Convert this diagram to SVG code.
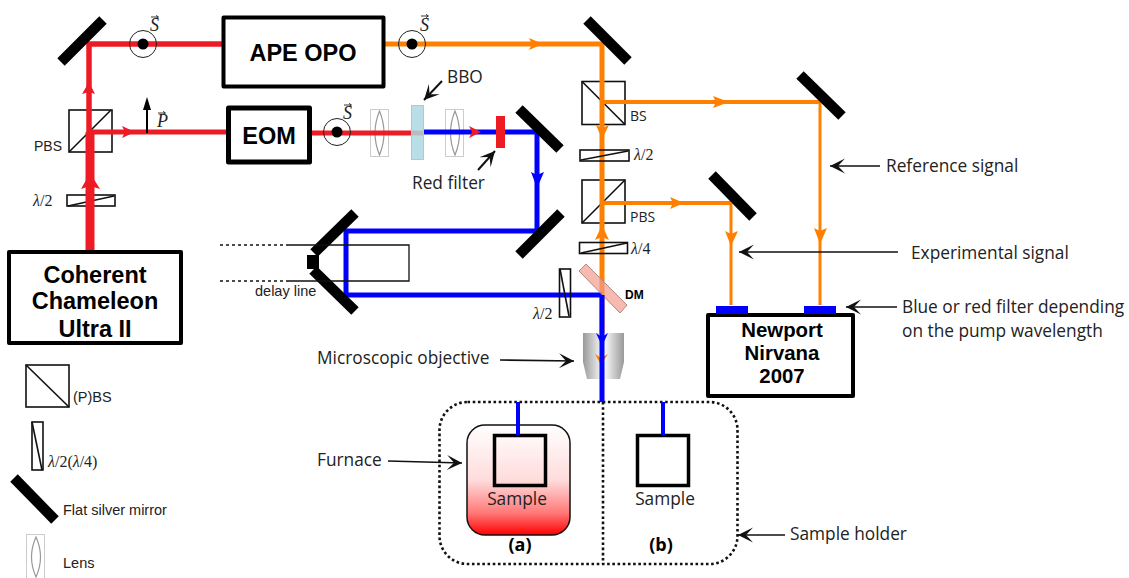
<svg xmlns="http://www.w3.org/2000/svg" xmlns:xlink="http://www.w3.org/1999/xlink" width="1129" height="578" viewBox="0 0 1129 578">
<style>
text{font-family:"Liberation Sans",Arial,sans-serif;fill:#111}
.c{font-family:"Open Sans","Noto Sans",sans-serif;font-size:17.300px;fill:#222}
.b{font-weight:700;text-anchor:middle;fill:#000}
.m{font-family:"Liberation Serif",serif;font-size:16px;fill:#222}
.m tspan{font-style:italic}
.v{font-family:"Liberation Serif",serif;font-style:italic;font-size:18px;fill:#222}
.l{font-size:14.500px;fill:#222}
.box{fill:#fff;stroke:#000;stroke-width:4;stroke-linejoin:round}
.thin{fill:none;stroke:#111;stroke-width:1.600}
.mir{stroke:#000;stroke-width:10.500;fill:none}
.lab{stroke:#111;stroke-width:1.600;fill:none;marker-end:url(#ah)}
.r{stroke:#ed1c24;fill:none}.o{stroke:#ff8000;fill:none}.bl{stroke:#0000ff;fill:none}
.rf{fill:#ed1c24}.of{fill:#ff8000}.bf{fill:#0000ff}
.lensbox{fill:none;stroke:#ccc;stroke-width:1}
.lens{fill:none;stroke:#999;stroke-width:1.200}
.ring{fill:none;stroke:#222;stroke-width:1}
</style>
<defs>
<marker id="ah" markerUnits="userSpaceOnUse" markerWidth="18" markerHeight="18" refX="16" refY="9" orient="auto"><path d="M1,1.500 L16,9 L1,16.500 L8,9 Z" fill="#111"/></marker>
<linearGradient id="fg" x1="0" y1="0" x2="0" y2="1"><stop offset="0" stop-color="#fff"/><stop offset=".5" stop-color="#ffdcdc"/><stop offset=".8" stop-color="#ff7878"/><stop offset="1" stop-color="#ff0000"/></linearGradient>
<linearGradient id="og" x1="0" y1="0" x2="1" y2="0"><stop offset="0" stop-color="#999"/><stop offset=".5" stop-color="#fff"/><stop offset="1" stop-color="#999"/></linearGradient>
<g id="pol"><circle r="13.500" class="ring"/><circle r="5.500" fill="#000"/></g>
<path id="vec" d="M0 0H7M5 -1.600L7.500 0L5 1.600" fill="none" stroke="#222" stroke-width="0.900"/>
</defs>

<g id="holder">
<rect x="439.500" y="402" width="298" height="162" rx="28" fill="none" stroke="#111" stroke-width="2.600" stroke-dasharray="2.600 2.600"/>
<path d="M603 402V564" fill="none" stroke="#111" stroke-width="2.600" stroke-dasharray="2.600 2.600"/>
<text class="c b" x="520" y="551" style="font-size:18px">(a)</text>
<text class="c b" x="661" y="551" style="font-size:18px">(b)</text>
</g>
<g id="furnace"><rect x="467" y="425" width="103" height="110" rx="18" fill="url(#fg)" stroke="#111" stroke-width="1.500"/></g>
<g id="sample-a"><rect x="494.500" y="435.500" width="51" height="50" fill="none" stroke="#000" stroke-width="3.500"/><text class="c" x="517" y="505" text-anchor="middle">Sample</text></g>
<g id="sample-b"><rect x="637.500" y="435.500" width="51" height="50" fill="#fff" stroke="#000" stroke-width="3.500"/><text class="c" x="665" y="505" text-anchor="middle">Sample</text></g>

<g id="pbs1"><rect class="thin" x="69" y="110" width="43" height="42"/><path class="thin" d="M69 152L111 110"/><text class="l" x="34" y="151" style="font-size:14px">PBS</text></g>
<g id="bs"><rect class="thin" x="582" y="81.500" width="43" height="43"/><path class="thin" d="M582 81.500L625 124.500"/><text class="c" x="630" y="121" style="font-size:14px">BS</text></g>
<g id="pbs2"><rect class="thin" x="582" y="180" width="43" height="43"/><path class="thin" d="M582 223L625 180"/><text class="c" x="630" y="222" style="font-size:14px">PBS</text></g>
<g id="hw1"><rect class="thin" x="67" y="195" width="48" height="11"/><path class="thin" d="M68 206L114 196"/><text class="m" x="33" y="206"><tspan>λ</tspan>/2</text></g>
<g id="lens1"><rect class="lensbox" x="370.500" y="109.500" width="18" height="47"/><path class="lens" d="M379.500 111Q388.500 133 379.500 155Q370.500 133 379.500 111Z"/></g>
<g id="lens2"><rect class="lensbox" x="445.500" y="109.500" width="18" height="47"/><path class="lens" d="M455 111Q464 133 455 155Q446 133 455 111Z"/></g>

<g id="connectors">
<path class="r" stroke-width="9" d="M90 250V132"/>
<path class="r" stroke-width="5.500" d="M89 132V44H223"/>
<path class="r" stroke-width="5" d="M90 132H228M310 133H411"/>
<path class="o" stroke-width="5" d="M384 44H602V340"/>
<path class="o" stroke-width="4" d="M602 102H820M602 203H731"/>
<path class="o" stroke-width="3" d="M820 102V305M731 203V305"/>
<path class="bl" stroke-width="5" d="M423 132H537V231H346V295H602"/>
<path class="bl" stroke-width="4" d="M518 402V435M663 402V435"/>
<path class="rf" d="M81 189L90 173L100 189L90 186Z"/>
<path class="rf" d="M82 94L89 82L95 94L89 92Z"/>
<path class="rf" d="M122 126L135 132L122 138L125 132Z"/>
<path class="rf" d="M469 126L481 132L469 138L472 132Z"/>
<path class="of" d="M529 38L543 44L529 50L532 44Z"/>
<path class="of" d="M596 125L602 139L609 125L602 128Z"/>
<path class="of" d="M595 240L602 225L609 240L602 237Z"/>
<path class="of" d="M713 96L729 102L713 108L716 102Z"/>
<path class="of" d="M670 197L684 203L670 209L673 203Z"/>
<path class="of" d="M814 228L820 244L827 228L820 231Z"/>
<path class="of" d="M725 231L731 246L738 231L731 234Z"/>
<path class="bf" d="M531 172L537 188L544 172L537 175Z"/>
</g>

<g id="hw2"><rect class="thin" x="580" y="150" width="49" height="11"/><path class="thin" d="M581 160L628 151"/><text class="m" x="634" y="160"><tspan>λ</tspan>/2</text></g>
<g id="qw"><rect class="thin" x="579.500" y="242.500" width="48" height="11"/><path class="thin" d="M581 253L627 243"/><text class="m" x="631" y="254"><tspan>λ</tspan>/4</text></g>
<g id="hw3"><rect class="thin" x="559.500" y="269" width="11" height="48"/><path class="thin" d="M560 269L569 316"/><text class="m" x="533" y="319"><tspan>λ</tspan>/2</text></g>

<g id="dm"><path d="M586 264L579 271L620 313L627 305Z" fill="#f29c90" fill-opacity=".7" stroke="#b08880" stroke-width="1"/><text x="625" y="299" font-size="12" font-weight="700" style="fill:#000">DM</text></g>

<g id="objective"><path d="M583 333H624V362L620 379H587L583 362Z" fill="url(#og)"/><path class="of" d="M595 354L601 365L608 354L601 358Z"/><path class="bl" stroke-width="5" d="M602 295V402"/><path class="bf" d="M596 333L602 346L608 333L602 337Z"/></g>

<g id="mirrors">
<path class="mir" d="M103 20L61 62"/>
<path class="mir" d="M587 20L628 61"/>
<path class="mir" d="M800 75L842 116"/>
<path class="mir" d="M712 175L753 217"/>
<path class="mir" d="M519 109L560 149"/>
<path class="mir" d="M561 213L519 255"/>
<path class="mir" d="M355 213L314 253"/>
<path class="mir" d="M313 270L355 311"/>
<rect x="307" y="255" width="12" height="14" fill="#000"/>
</g>
<g id="delay-line">
<path d="M220 245H287M220 281H287" fill="none" stroke="#111" stroke-width="1.500" stroke-dasharray="3 3"/>
<path d="M287 245H409V281H287" fill="none" stroke="#111" stroke-width="1.300"/>
<text class="l" x="255" y="296">delay line</text>
</g>

<g id="coherent"><rect class="box" x="9" y="252" width="172" height="91"/><text class="b" x="95" y="283" font-size="23.500">Coherent</text><text class="b" x="95" y="309" font-size="23.500">Chameleon</text><text class="b" x="95" y="337" font-size="23.500">Ultra II</text></g>
<g id="ape"><rect class="box" x="223.500" y="17.500" width="160" height="69"/><text class="b" x="303" y="61" font-size="23.500">APE OPO</text></g>
<g id="eom"><rect class="box" x="228.500" y="108" width="81" height="54" style="stroke-width:5"/><text class="b" x="269" y="144" font-size="23.500">EOM</text></g>
<g id="newport"><rect class="box" x="708" y="315" width="145" height="81"/><text class="b" x="782" y="337" font-size="20.400">Newport</text><text class="b" x="782" y="360" font-size="20.400">Nirvana</text><text class="b" x="782" y="383" font-size="20.400">2007</text>
<rect x="716" y="306" width="32" height="8" class="bf"/><rect x="804" y="306" width="32" height="8" class="bf"/></g>

<g id="bbo"><rect x="411.500" y="105.500" width="12" height="54" fill="#b8dfe8" stroke="#a5cdd6" stroke-width="1"/><rect x="412" y="130.500" width="11" height="5" fill="#bbb"/></g>
<g id="red-filter"><rect x="496" y="116" width="9" height="32" class="rf"/></g>

<g id="polarization">
<use xlink:href="#pol" x="143" y="44"/><use xlink:href="#pol" x="412" y="44"/><use xlink:href="#pol" x="337" y="132"/>
<text class="v" x="150" y="31">S</text><use xlink:href="#vec" x="151" y="17"/>
<text class="v" x="420" y="31">S</text><use xlink:href="#vec" x="421" y="16"/>
<text class="v" x="343" y="119">S</text><use xlink:href="#vec" x="344" y="105"/>
<text class="v" x="157" y="127">P</text><use xlink:href="#vec" x="158" y="113"/>
<path d="M147 133V105" stroke="#000" stroke-width="2" fill="none"/><path d="M143 110L147 97L151 110Z" fill="#000"/>
</g>

<g id="labels">
<text class="c" x="447" y="83">BBO</text>
<path class="lab" d="M442 81L424 100" style="stroke-width:2"/>
<text class="c" x="412" y="189">Red filter</text>
<path class="lab" d="M478 170L495 151" style="stroke-width:2"/>
<text class="c" x="886" y="172">Reference signal</text>
<path class="lab" d="M880 166H830"/>
<text class="c" x="911" y="259">Experimental signal</text>
<path class="lab" d="M898 252H739"/>
<text class="c" x="902" y="313">Blue or red filter depending</text>
<text class="c" x="902" y="337">on the pump wavelength</text>
<path class="lab" d="M897 307H846"/>
<text class="c" x="317" y="364">Microscopic objective</text>
<path class="lab" d="M500 360L574 361"/>
<text class="c" x="317" y="466">Furnace</text>
<path class="lab" d="M388 461L462 463"/>
<text class="c" x="790" y="540">Sample holder</text>
<path class="lab" d="M785 535H738"/>
</g>

<g id="legend">
<rect class="thin" x="26" y="365" width="43" height="42"/><path class="thin" d="M26 365L69 407"/><text class="l" x="73" y="402">(P)BS</text>
<rect class="thin" x="32" y="422" width="11" height="48"/><path class="thin" d="M32 422L42 470"/><text class="m" x="48" y="467"><tspan>λ</tspan>/2(<tspan>λ</tspan>/4)</text>
<path class="mir" d="M14 478L55 520"/><text class="l" x="63" y="515">Flat silver mirror</text>
<rect class="lensbox" x="26.500" y="534.500" width="18" height="46"/><path class="lens" d="M36 537Q45 557 36 577Q27 557 36 537Z"/><text class="l" x="63" y="568">Lens</text>
</g>
</svg>
